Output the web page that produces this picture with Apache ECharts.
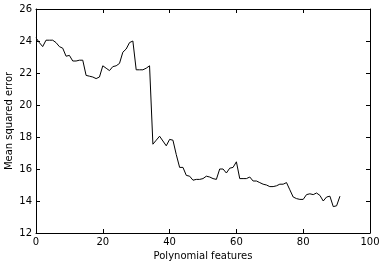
<!DOCTYPE html>
<html><head><meta charset="utf-8">
<script src="https://cdn.jsdelivr.net/npm/echarts@6/dist/echarts.min.js"></script>
<style>html,body{margin:0;padding:0;background:#fff}#c{width:384px;height:266px}</style>
</head><body><div id="c"></div>
<script>
const features = [];
for (let i = 0; i <= 91; i++) features.push(i);
const mse = [
24.2,23.9,23.65,24.05,24.05,24.05,23.9,23.65,23.55,23.05,
23.1,22.75,22.75,22.8,22.8,21.85,21.8,21.75,21.65,21.75,
22.45,22.3,22.15,22.4,22.45,22.6,23.3,23.5,23.9,24.0,
22.2,22.2,22.2,22.3,22.45,17.55,17.8,18.05,17.75,17.45,
17.85,17.8,16.9,16.1,16.1,15.6,15.55,15.3,15.35,15.35,
15.4,15.55,15.5,15.4,15.35,16.0,16.0,15.75,16.05,16.1,
16.45,15.4,15.4,15.4,15.5,15.25,15.25,15.15,15.05,15.0,
14.9,14.9,14.95,15.05,15.05,15.15,14.7,14.25,14.15,14.1,
14.1,14.4,14.45,14.4,14.5,14.35,14.0,14.25,14.3,13.65,
13.7,14.3];
const xTicks = [0,20,40,60,80,100];
const yTicks = [12,14,16,18,20,22,24,26];

const font = 'DejaVu Sans';
const axisCommon = {
  axisLine: {show: true, onZero: false, lineStyle: {color: '#000', width: 1}},
  axisTick: {show: true, inside: true, length: 4, lineStyle: {color: '#000'}},
  splitLine: {show: false},
  nameMoveOverlap: false
};
const chart = echarts.init(document.getElementById('c'), null, {renderer: 'canvas'});
chart.setOption({
  animation: false,
  backgroundColor: '#fff',
  grid: {left: 36, right: 14, top: 9, bottom: 33, containLabel: false, outerBoundsMode: 'none'},
  xAxis: [
    Object.assign({type: 'value', min: 0, max: 100, interval: 20, position: 'bottom',
      name: 'Polynomial features', nameLocation: 'middle', nameGap: 18,
      nameTextStyle: {color: '#000', fontFamily: font, fontSize: 10},
      axisLabel: {color: '#000', fontFamily: font, fontSize: 10, margin: 4}}, axisCommon),
    Object.assign({type: 'value', min: 0, max: 100, interval: 20, position: 'top',
      axisLabel: {show: false}}, axisCommon)
  ],
  yAxis: [
    Object.assign({type: 'value', min: 12, max: 26, interval: 2, position: 'left',
      name: 'Mean squared error', nameLocation: 'middle', nameGap: 22,
      nameTextStyle: {color: '#000', fontFamily: font, fontSize: 10},
      axisLabel: {color: '#000', fontFamily: font, fontSize: 10, margin: 4}}, axisCommon),
    Object.assign({type: 'value', min: 12, max: 26, interval: 2, position: 'right',
      axisLabel: {show: false}}, axisCommon)
  ],
  series: [{
    type: 'line', xAxisIndex: 0, yAxisIndex: 0,
    data: features.map((f, i) => [f, mse[i]]),
    showSymbol: false, symbol: 'none',
    lineStyle: {color: '#000', width: 1}
  }]
});
</script></body></html>
